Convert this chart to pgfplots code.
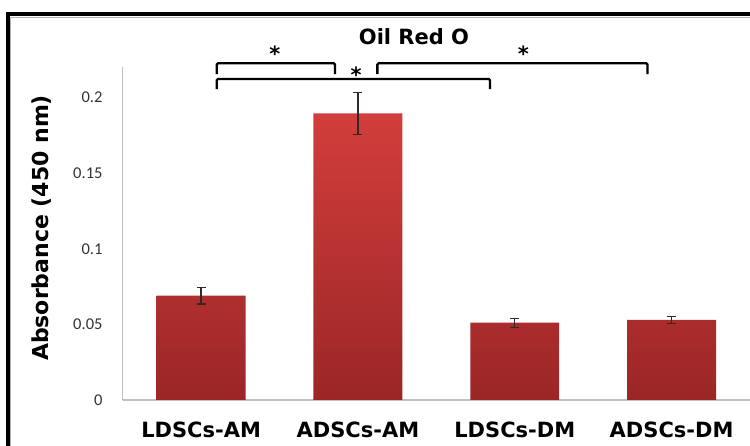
\documentclass[border=0pt]{standalone}
\usepackage{pgfplots}
\pgfplotsset{compat=1.18}
\usepackage{fontspec}
\setmainfont{DejaVu Sans}
\newfontfamily\calibri{Carlito}

\definecolor{bartop}{RGB}{210,62,60}
\definecolor{barbottom}{RGB}{155,38,38}
\definecolor{axisgray}{RGB}{191,191,191}
\definecolor{errgray}{RGB}{50,40,40}

\newcommand{\labfont}{\bfseries\fontsize{21bp}{25bp}\selectfont}

\pgfplotstableread{
x  y       err
0  0.0690  0.0055
1  0.1895  0.0140
2  0.0511  0.0030
3  0.0529  0.0022
}\oilred

\begin{document}
\begin{tikzpicture}[x=1bp,y=1bp]
\useasboundingbox (0,0) rectangle (750,446);
% outer frame
\draw[black!30, line width=1.2bp] (10.8,-20) -- (10.8,428.2) -- (780,428.2);
\draw[black, line width=4bp] (7.5,-20) -- (7.5,431.5) -- (780,431.5);

\begin{axis}[
  at={(122.7bp,46bp)}, anchor=south west,
  scale only axis, width=627.3bp, height=332.75bp,
  xmin=-0.5, xmax=3.5, ymin=0, ymax=0.22,
  clip=false,
  axis x line=bottom, axis y line=left,
  axis line style={-, draw=axisgray, line width=1.3bp},
  major tick length=0pt,
  xtick={0,1,2,3},
  xticklabels={LDSCs-AM,ADSCs-AM,LDSCs-DM,ADSCs-DM},
  ytick={0,0.05,0.1,0.15,0.2},
  yticklabels={0,0.05,0.1,0.15,0.2},
  /pgf/number format/assume math mode=true,
  xticklabel style={font=\labfont, anchor=base, yshift=-37.7bp},
  yticklabel style={font=\calibri\fontsize{16.5bp}{19bp}\selectfont, text=black!80, anchor=east, inner sep=0pt, xshift=-20bp},
  ylabel={Absorbance (450 nm)},
  ylabel style={font=\bfseries\fontsize{22bp}{26bp}\selectfont, at={(axis description cs:-0.1287,0.517)}, anchor=center},
]
% bars
\addplot[ybar, bar width=0.567, draw=none, mark=none, top color=bartop, bottom color=barbottom]
  table[x=x, y=y] {\oilred};
% error bars
\addplot[draw=none, mark=none, forget plot,
  error bars/.cd, y dir=both, y explicit,
  error bar style={draw=errgray, line width=1.3bp},
  error mark options={draw=errgray, line width=1.3bp, mark size=4.5bp, rotate=90}]
  table[x=x, y=y, y error=err] {\oilred};

% significance brackets
\begin{scope}[line width=2.3bp, rounded corners=1.2bp]
\draw (axis cs:0.0995,0.2155) -- (axis cs:0.0995,0.2226) -- (axis cs:0.854,0.2226) -- (axis cs:0.854,0.2155);
\draw (axis cs:1.124,0.2155) -- (axis cs:1.124,0.2226) -- (axis cs:2.846,0.2226) -- (axis cs:2.846,0.2155);
\draw (axis cs:0.0995,0.2056) -- (axis cs:0.0995,0.2122) -- (axis cs:1.842,0.2122) -- (axis cs:1.842,0.2056);
\end{scope}
\node[font=\labfont, anchor=base, inner sep=0pt, yshift=-12.2bp] at (axis cs:0.471,0.2319) {*};
\node[font=\labfont, anchor=base, inner sep=0pt, yshift=-12.2bp] at (axis cs:2.055,0.2319) {*};
\node[font=\labfont, anchor=base, inner sep=0pt, yshift=-12.2bp] at (axis cs:0.988,0.2181) {*};
\end{axis}

\node[font=\labfont, anchor=base] at (414,401.6) {Oil Red O};
\end{tikzpicture}
\end{document}
